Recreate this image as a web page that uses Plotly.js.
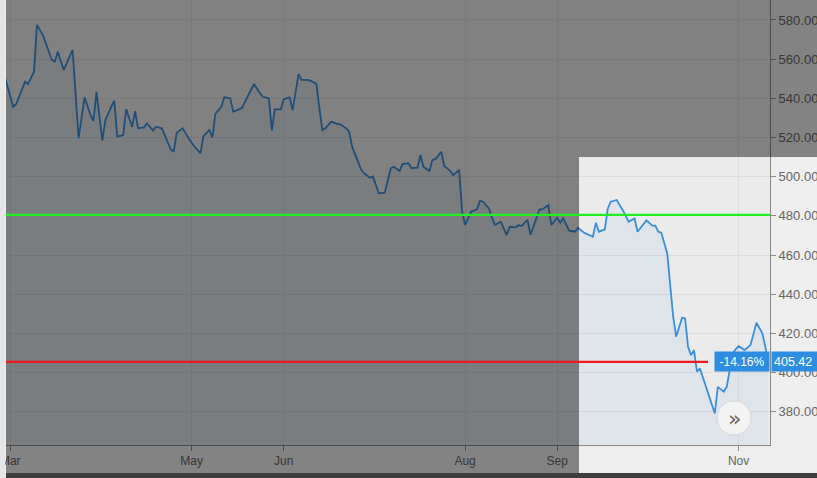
<!DOCTYPE html>
<html>
<head>
<meta charset="utf-8">
<script src="https://cdn.plot.ly/plotly-3.0.1.min.js"></script>
<style>
html,body{margin:0;padding:0;background:#e9e9e9;}
#chart{width:817px;height:478px;}
</style>
</head>
<body>
<div id="chart"></div>
<script>
// ---- data ----
const dates = [
"2018-02-27","2018-03-02","2018-03-03","2018-03-05","2018-03-06","2018-03-07","2018-03-09","2018-03-10","2018-03-12","2018-03-15",
"2018-03-16","2018-03-17","2018-03-19","2018-03-22","2018-03-23","2018-03-24","2018-03-26","2018-03-28","2018-03-29","2018-03-30",
"2018-04-01","2018-04-02","2018-04-04","2018-04-05","2018-04-06","2018-04-08","2018-04-09","2018-04-11","2018-04-12","2018-04-13",
"2018-04-15","2018-04-16","2018-04-18","2018-04-19","2018-04-21","2018-04-24","2018-04-25","2018-04-26","2018-04-28","2018-04-30",
"2018-05-02","2018-05-04","2018-05-05","2018-05-07","2018-05-08","2018-05-09","2018-05-11","2018-05-12","2018-05-14","2018-05-15",
"2018-05-16","2018-05-18","2018-05-19","2018-05-22","2018-05-24","2018-05-25","2018-05-27","2018-05-28","2018-05-29","2018-05-31",
"2018-06-01","2018-06-03","2018-06-04","2018-06-06","2018-06-07","2018-06-09","2018-06-10","2018-06-12","2018-06-13","2018-06-14",
"2018-06-15","2018-06-17","2018-06-19","2018-06-20","2018-06-22","2018-06-23","2018-06-24","2018-06-25","2018-06-27","2018-06-28",
"2018-06-30","2018-07-01","2018-07-03","2018-07-05","2018-07-07","2018-07-08","2018-07-10","2018-07-11","2018-07-13","2018-07-14",
"2018-07-16","2018-07-17","2018-07-18","2018-07-20","2018-07-21","2018-07-22","2018-07-24","2018-07-25","2018-07-27","2018-07-28",
"2018-07-30","2018-07-31","2018-08-01","2018-08-03","2018-08-05","2018-08-06","2018-08-07","2018-08-09","2018-08-11","2018-08-13",
"2018-08-15","2018-08-16","2018-08-18","2018-08-19","2018-08-20","2018-08-22","2018-08-23","2018-08-26","2018-08-27","2018-08-29",
"2018-08-30","2018-09-01","2018-09-02","2018-09-03","2018-09-05","2018-09-07","2018-09-08","2018-09-10","2018-09-13","2018-09-14",
"2018-09-15","2018-09-17","2018-09-18","2018-09-19","2018-09-21","2018-09-23","2018-09-25","2018-09-27","2018-09-28","2018-10-01",
"2018-10-03","2018-10-04","2018-10-05","2018-10-06","2018-10-08","2018-10-10","2018-10-11","2018-10-13","2018-10-14","2018-10-15",
"2018-10-16","2018-10-17","2018-10-18","2018-10-19","2018-10-21","2018-10-22","2018-10-24","2018-10-25","2018-10-27","2018-10-28",
"2018-10-30","2018-10-31","2018-11-01","2018-11-03","2018-11-05","2018-11-07","2018-11-09","2018-11-10","2018-11-11"
];
const prices = [
551.9,535.7,537.1,545.1,548.5,547.3,553.6,577.4,572.3,559.6,
558.7,563.8,554.5,564.7,539.1,519.6,540.5,531.5,528.4,543.4,
518.4,528.9,535.7,538.8,520.4,521.3,534.4,525.5,533.5,524.7,
525.2,527.2,523.5,525.5,524.7,514.0,512.7,522.4,524.7,519.6,
515.3,511.9,520.8,523.8,519.9,532.0,535.7,540.5,540.0,533.2,
533.7,535.2,538.3,547.3,542.6,540.8,540.0,523.5,534.4,534.4,
539.5,540.5,534.0,552.4,549.4,549.4,549.0,547.3,534.9,523.8,
524.7,528.1,526.9,526.7,524.7,523.0,515.3,511.1,503.7,501.7,
499.5,500.0,491.5,491.8,504.3,505.1,503.0,506.5,506.8,504.3,
504.6,511.1,505.1,502.9,508.5,508.9,512.7,505.4,503.0,500.8,
503.4,482.1,475.3,482.1,483.3,487.7,487.2,483.8,475.3,477.0,
470.2,474.4,474.1,475.3,474.8,477.9,470.2,483.3,483.3,485.5,
475.3,479.0,476.5,478.7,472.4,471.9,473.9,471.4,469.3,476.5,
471.9,473.1,483.8,487.2,488.1,483.0,477.0,478.7,471.9,477.7,
475.0,475.0,471.9,471.4,460.8,428.5,418.3,428.0,427.6,413.1,
408.9,411.5,400.4,402.1,392.7,387.6,379.1,392.7,390.2,392.7,
409.8,411.8,413.5,411.5,414.0,425.4,420.0,413.1,405.42
];
const tickDates = ["2018-03-01","2018-05-01","2018-06-01","2018-08-01","2018-09-01","2018-11-01"];
const tickLabels = ["Mar","May","Jun","Aug","Sep","Nov"];
const greenLevel = 480.5;
const changeText = "-14.16%";
const lastPrice = prices[prices.length - 1];

// ---- chart ----
const W = 817, H = 478, L = 6, R = 47, T = 0, B = 33;
const pw = W - L - R, ph = H - T - B;
const px = X => (X - L) / pw;           // pixel -> paper x
const py = Y => (H - B - Y) / ph;       // pixel -> paper y

const trace = {
  x: dates, y: prices, type: 'scatter', mode: 'lines',
  line: {color: '#3a8fdb', width: 1.8},
  fill: 'tozeroy', fillcolor: 'rgba(58,143,219,0.07)',
  hoverinfo: 'skip'
};

const overlay = 'rgba(0,0,0,0.45)';
const shapes = [
  // dimmed areas outside the highlighted window
  {type:'rect', xref:'paper', yref:'paper', x0:0, x1:px(579), y0:py(473), y1:py(0), fillcolor:overlay, line:{width:0}, layer:'above'},
  {type:'rect', xref:'paper', yref:'paper', x0:px(579), x1:px(820), y0:py(157), y1:py(0), fillcolor:overlay, line:{width:0}, layer:'above'},
  // bottom dark band
  {type:'rect', xref:'paper', yref:'paper', x0:px(6), x1:px(820), y0:py(480), y1:py(473), fillcolor:'#3e3e3e', line:{width:0}, layer:'above'},
  // left light border strip
  {type:'rect', xref:'paper', yref:'paper', x0:px(-2), x1:px(5), y0:py(480), y1:py(-2), fillcolor:'#e6e6e6', line:{width:0}, layer:'above'},
  // green level line
  {type:'line', xref:'paper', yref:'y', x0:0, x1:1, y0:greenLevel, y1:greenLevel, line:{color:'#22ee22', width:2.2}, layer:'above'},
  // red current line
  {type:'line', xref:'paper', yref:'y', x0:0, x1:px(708), y0:lastPrice, y1:lastPrice, line:{color:'#ee1c1c', width:2.2}, layer:'above'},
  // scroll button
  {type:'circle', xref:'paper', yref:'paper', x0:px(717), x1:px(751), y0:py(435), y1:py(401), fillcolor:'#f3f3f3', line:{color:'#d8d8d8', width:1}, layer:'above'}
];

const annotations = [
  {xref:'paper', yref:'y', x:px(742), y:lastPrice, text:changeText, showarrow:false,
   bgcolor:'#2e8de0', font:{color:'#ffffff', size:12, family:'Liberation Sans, Arial, sans-serif'},
   width:50, height:15, borderpad:2, xanchor:'center', yanchor:'middle'},
  {xref:'paper', yref:'y', x:px(771), y:lastPrice, text:lastPrice.toFixed(2), showarrow:false,
   bgcolor:'#2e8de0', font:{color:'#ffffff', size:12.5, family:'Liberation Sans, Arial, sans-serif'},
   width:52, height:15, borderpad:2, xanchor:'left', yanchor:'middle', align:'left'},
  {xref:'paper', yref:'paper', x:px(734), y:py(418), text:'»', showarrow:false,
   font:{color:'#666666', size:22, family:'DejaVu Sans, sans-serif'}, xanchor:'center', yanchor:'middle'}
];

const layout = {
  width: W, height: H,
  margin: {l: L, r: R, t: T, b: B, pad: 0},
  paper_bgcolor: '#eeeeee',
  plot_bgcolor: '#ebebeb',
  showlegend: false,
  font: {family: 'Liberation Sans, Arial, sans-serif', color: '#666666'},
  xaxis: {
    type: 'date', range: ['2018-02-27 14:00', '2018-11-11 13:30'],
    tickmode: 'array', tickvals: tickDates, ticktext: tickLabels,
    ticklabeloverflow: 'allow',
    ticks: 'outside', ticklen: 5, tickcolor: '#8a8a8a',
    showgrid: true, gridcolor: '#dcdcdc', gridwidth: 1,
    showline: true, linecolor: '#8a8a8a', linewidth: 1,
    zeroline: false, tickfont: {size: 12, color: '#666666'}, fixedrange: true
  },
  yaxis: {
    side: 'right', range: [363, 590.2], dtick: 20, tick0: 380,
    tickformat: '.2f', ticks: 'outside', ticklen: 5, tickcolor: '#8a8a8a',
    showgrid: true, gridcolor: '#dcdcdc', gridwidth: 1,
    showline: true, linecolor: '#8a8a8a', linewidth: 1,
    zeroline: false, tickfont: {size: 13, color: '#666666'}, fixedrange: true
  },
  shapes: shapes,
  annotations: annotations
};

Plotly.newPlot('chart', [trace], layout, {displayModeBar: false, staticPlot: true});
</script>
</body>
</html>
